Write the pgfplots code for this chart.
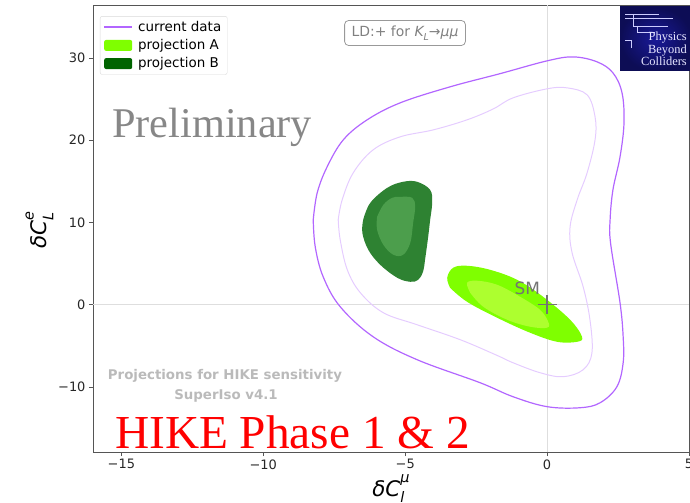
\documentclass[border=0pt]{standalone}
\usepackage{pgfplots}
\pgfplotsset{compat=1.18}
\usepackage{fontspec}
\setmainfont{DejaVu Sans}
\newfontfamily\seriffont{Liberation Serif}

\definecolor{cur}{HTML}{B266FF}
\definecolor{curlight}{HTML}{E5CCFF}
\definecolor{projA}{HTML}{7FFF00}
\definecolor{projAin}{HTML}{ADFF2F}
\definecolor{projB}{HTML}{2E8232}
\definecolor{projBin}{HTML}{4C9E4C}
\definecolor{projBleg}{HTML}{006400}
\definecolor{axgray}{HTML}{555555}

% sub- and superscript stacked after a symbol
\newcommand{\subsup}[3]{%
  \makebox[0pt][l]{\raisebox{-0.3em}{\fontsize{#1}{#1}\selectfont #2}}%
  \raisebox{0.62em}{\fontsize{#1}{#1}\selectfont #3}}

\begin{document}
\begin{tikzpicture}
\begin{axis}[
  scale only axis, width=596bp, height=447bp,
  xmin=-16, xmax=5, ymin=-17.9, ymax=36.44,
  axis line style={axgray, line width=0.9bp},
  tick align=outside, tick pos=left, major tick length=4bp,
  every tick/.style={axgray, line width=0.8bp},
  xtick={-15,-10,-5,0,5}, xticklabels={−15,−10,−5,0,5},
  ytick={-10,0,10,20,30}, yticklabels={−10,0,10,20,30},
  ticklabel style={font=\fontsize{13}{15}\selectfont, text=black!85},
  legend style={at={(0.0117,0.975)}, anchor=north west, draw=black!15,
    rounded corners=2bp, font=\fontsize{13.5}{17}\selectfont,
    inner xsep=4bp, inner ysep=3bp, row sep=2.5bp},
  legend cell align=left,
]
% reference lines through the SM point
\addplot[forget plot, draw=black!13, line width=1bp] coordinates {(0,-17.9) (0,36.44)};
\addplot[forget plot, draw=black!13, line width=1bp] coordinates {(-16,0) (5,0)};

% current data: outer contour
\addplot[draw=cur, line width=1.2bp, smooth, tension=0.6,
  legend image code/.code={\path[draw=none, fill=cur, sharp corners] (0bp,-1.1bp) rectangle (28bp,1.1bp);}]
  coordinates {(-8.24,10.33) (-8.10,13.61) (-7.75,16.77) (-7.18,20.05) (-6.34,22.48)
  (-5.18,24.54) (-3.42,26.49) (-1.65,28.10) (0,29.65) (0.92,30.13) (1.76,29.53)
  (2.32,28.19) (2.64,25.76) (2.71,22.11) (2.57,17.98) (2.32,13.97) (2.22,10.33)
  (2.24,7.4) (2.57,0.24) (2.68,-3.89) (2.68,-7.05) (2.46,-9.96) (1.87,-11.91)
  (1.16,-12.52) (0,-12.39) (-1.20,-11.18) (-2.36,-9.48) (-4.58,-6.68) (-6.13,-3.89)
  (-7.29,-0.24) (-7.89,3.40) (-8.17,7.05) (-8.24,10.33)};
\addlegendentry{\hspace{4bp}current data}

% current data: inner contour
\addplot[forget plot, draw=curlight, line width=1bp, smooth, tension=0.6]
  coordinates {(-7.36,10.33) (-7.22,12.76) (-6.83,16.04) (-6.13,18.83) (-5.18,20.41)
  (-4.01,21.26) (-2.82,22.48) (-1.90,23.80) (-1.20,25.15) (0,26.25) (0.70,26.37)
  (1.41,25.52) (1.69,22.84) (1.69,20.05) (1.41,16.04) (1.06,12.76) (0.81,9.48)
  (0.88,6.32) (1.27,2.19) (1.51,-1.82) (1.58,-5.83) (1.27,-7.90) (0.56,-8.75)
  (-0.25,-8.26) (-1.20,-7.05) (-1.80,-6.1) (-3.06,-4.25) (-4.58,-2.43) (-5.77,-0.97)
  (-6.58,1.46) (-7.04,4.25) (-7.29,7.90) (-7.36,10.33)};

% projection A
\addplot[fill=projA, draw=none, smooth, tension=0.6,
  legend image code/.code={\path[draw=none, fill=projA] (0bp,-5.5bp) rectangle (28bp,5.5bp);}]
  coordinates {(-3.42,2.07) (-3.52,3.28) (-3.31,4.50) (-2.82,4.74) (-2.01,4.25)
  (-1.06,3.04) (-0.14,0.97) (0.81,-1.82) (1.23,-3.89) (1.06,-4.50) (0.35,-4.50)
  (-0.60,-3.40) (-1.76,-1.58) (-2.82,0.36) (-3.42,2.07)};
\addlegendentry{\hspace{4bp}projection A}
\addplot[forget plot, fill=projAin, draw=none, smooth, tension=0.6]
  coordinates {(-2.71,1.46) (-2.82,2.67) (-2.46,2.92) (-1.76,2.43) (-0.95,0.97)
  (-0.25,-0.61) (0.04,-2.07) (0,-2.79) (-0.60,-2.67) (-1.41,-1.82) (-2.25,-0.24)
  (-2.71,1.46)};

% projection B
\addplot[fill=projB, draw=none, smooth, tension=0.6,
  legend image code/.code={\path[draw=none, fill=projBleg] (0bp,-5.5bp) rectangle (28bp,5.5bp);}]
  coordinates {(-6.48,10.33) (-6.23,12.39) (-5.63,14.22) (-5.07,14.95) (-4.58,14.95)
  (-4.12,13.97) (-4.05,12.39) (-4.12,10.33) (-4.19,8.26) (-4.30,5.47) (-4.37,4.01)
  (-4.54,3.04) (-4.82,2.79) (-5.28,3.28) (-5.88,4.86) (-6.30,6.68) (-6.51,8.75)
  (-6.48,10.33)};
\addlegendentry{\hspace{4bp}projection B}
\addplot[forget plot, fill=projBin, draw=none, smooth, tension=0.6]
  coordinates {(-5.99,10.69) (-5.77,12.15) (-5.46,13.00) (-5.18,13.12) (-4.75,13.00)
  (-4.65,11.91) (-4.72,9.96) (-4.82,7.53) (-5.07,6.08) (-5.42,6.08) (-5.77,7.29)
  (-5.99,9.11) (-5.99,10.69)};

% Standard Model point
\addplot[forget plot, only marks, mark=+, mark size=9.5bp,
  mark options={draw=black!55, line width=1.2bp}] coordinates {(0,0)};
\node[text=black!55, font=\fontsize{17}{17}\selectfont] at (axis cs:-0.70,1.95) {SM};
\end{axis}

% axis titles
\node[anchor=base, font=\fontsize{21.5}{21.5}\selectfont\itshape] at (298bp,-44bp)
  {δC\subsup{14.5}{l}{μ}};
\node[anchor=base, rotate=90, font=\fontsize{21.5}{21.5}\selectfont\itshape] at (-46bp,222bp)
  {δC\subsup{14.5}{L}{e}};

% annotations
\node[anchor=base west, inner sep=0, text=black!47, font=\seriffont\fontsize{42.5}{42.5}\selectfont]
  at (19bp,314bp) {Preliminary};
\node[anchor=base west, inner sep=0, text=red, font=\seriffont\fontsize{47.5}{47.5}\selectfont]
  at (22bp,4bp) {HIKE Phase 1 \& 2};
\node[anchor=base, inner sep=0, text=black!27, font=\bfseries\fontsize{13.4}{13.4}\selectfont]
  at (132bp,72bp) {Projections for HIKE sensitivity};
\node[anchor=base, inner sep=0, text=black!27, font=\bfseries\fontsize{13.4}{13.4}\selectfont]
  at (133bp,52bp) {SuperIso v4.1};
\node[draw=black!40, rounded corners=4bp, text=black!50, line width=0.8bp,
  font=\fontsize{14}{16}\selectfont, inner xsep=7bp, minimum height=25bp]
  at (312bp,419bp) {LD:+ for {\itshape K}\raisebox{-0.25em}{\fontsize{9.5}{9.5}\selectfont\itshape L}→{\itshape μμ}};

% Physics Beyond Colliders badge
\shade[inner color=blue!55!black!90, outer color=blue!30!black!95]
  (527bp,381bp) rectangle (598bp,445bp);
\draw[white!80!blue, line width=0.6bp] (532bp,438bp) -- (566bp,438bp)
  (532bp,434bp) -- (580bp,434bp) (540bp,438bp) -- (540bp,426bp) -- (575bp,426bp)
  (544bp,426bp) -- (544bp,420bp) -- (562bp,420bp) (532bp,412bp) -- (538bp,412bp) -- (538bp,404bp);
\node[anchor=base east, inner sep=0, text=white!90!blue, align=right,
  font=\seriffont\fontsize{12.5}{13}\selectfont] at (594bp,386bp)
  {Physics\\Beyond\\Colliders};

\pgfresetboundingbox
\useasboundingbox (-93bp,-51bp) rectangle (597bp,452bp);
\end{tikzpicture}
\end{document}
